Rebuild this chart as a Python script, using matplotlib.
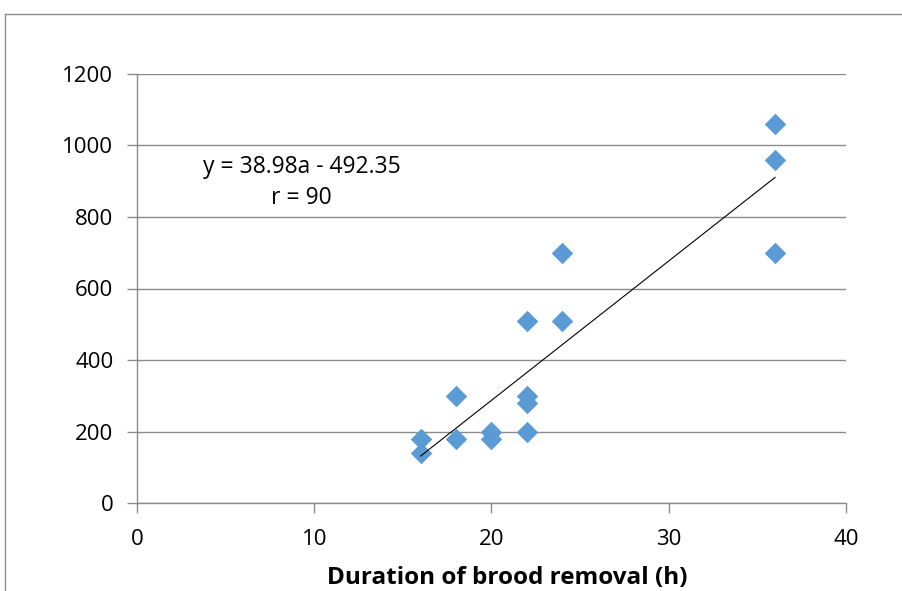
import matplotlib
matplotlib.use("Agg")
import matplotlib.pyplot as plt
from matplotlib.lines import Line2D
import numpy as np

duration_h = [16, 16, 18, 18, 20, 20, 22, 22, 22, 22, 24, 24, 36, 36, 36]
values = [180, 140, 300, 180, 200, 180, 510, 300, 280, 200, 700, 510, 1060, 960, 700]
slope, intercept = 38.98, -492.35
eq_text = "y = 38.98a - 492.35\nr = 90"
x_ticks = [0, 10, 20, 30, 40]
y_ticks = [0, 200, 400, 600, 800, 1000, 1200]
x_label = "Duration of brood removal (h)"

plt.rcParams['font.family'] = ['Open Sans', 'DejaVu Sans']

W, H = 903, 591
fig = plt.figure(figsize=(W / 100, H / 100), dpi=100)
ax = fig.add_axes([137 / W, 1 - 503 / H, (846 - 137) / W, (503 - 74) / H])

grid_c = "#8c8c8c"
ax.set_xlim(0, 40)
ax.set_ylim(0, 1200)
ax.set_xticks(x_ticks)
ax.set_yticks(y_ticks)
ax.yaxis.grid(True, color=grid_c, linewidth=1.0)
ax.set_axisbelow(True)
for s in ["top", "right"]:
    ax.spines[s].set_visible(False)
for s in ["left", "bottom"]:
    ax.spines[s].set_color(grid_c)
    ax.spines[s].set_linewidth(1.0)
ax.tick_params(axis="both", direction="out", length=7, width=1.0, color=grid_c,
               labelsize=16, labelcolor="black")
ax.tick_params(axis="y", pad=10)
ax.tick_params(axis="x", pad=12)

ax.scatter(duration_h, values, marker="D", s=120, color="#5B9BD5", zorder=3,
           linewidths=0)

xs = np.array([min(duration_h), max(duration_h)])
ax.plot(xs, slope * xs + intercept, color="black", linewidth=0.8, zorder=4)

ax.text(9.3, 896, eq_text, ha="center", va="center", fontsize=16.5,
        linespacing=1.4, multialignment="center")

fig.text(507 / W, 1 - 578 / H, x_label, ha="center", va="center",
         fontsize=17.5, fontweight="bold")

# outer chart frame
fig.add_artist(Line2D([5 / W, 1], [1 - 14 / H, 1 - 14 / H], color="#8c8c8c",
                      linewidth=1.0, transform=fig.transFigure))
fig.add_artist(Line2D([5 / W, 5 / W], [0, 1 - 14 / H], color="#8c8c8c",
                      linewidth=1.0, transform=fig.transFigure))

fig.savefig("out.png", dpi=100)
